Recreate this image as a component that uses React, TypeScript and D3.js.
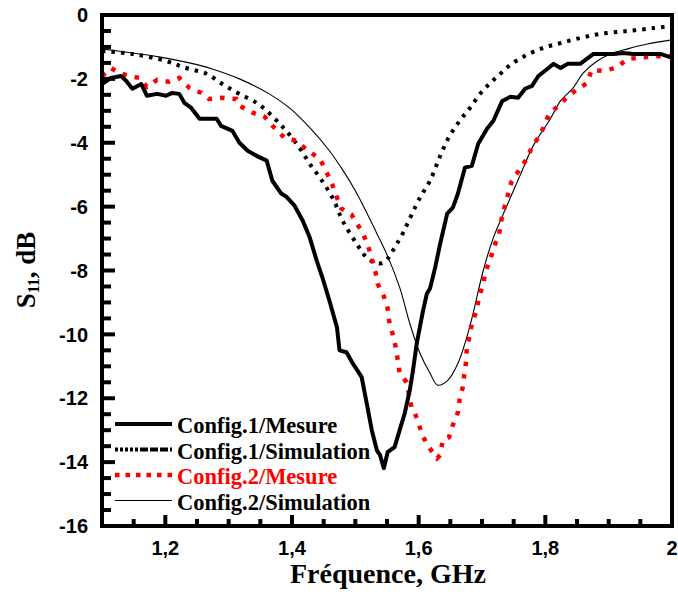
import React from "react";
import * as d3 from "d3";

// Config.1 / Mesure  [GHz, dB]
const mes1F = [1.100,1.114,1.130,1.138,1.148,1.162,1.171,1.187,1.201,1.211,1.222,1.230,1.241,1.254,1.265,1.281,1.288,1.306,1.317,1.330,1.344,1.360,1.369,1.383,1.391,1.404,1.417,1.428,1.439,1.448,1.459,1.471,1.475,1.486,1.496,1.510,1.518,1.526,1.534,1.539,1.545,1.551,1.562,1.570,1.578,1.586,1.591,1.597,1.607,1.613,1.618,1.626,1.634,1.645,1.654,1.662,1.673,1.684,1.694,1.708,1.718,1.732,1.745,1.757,1.768,1.779,1.789,1.803,1.813,1.824,1.835,1.855,1.876,1.892,1.908,1.923,1.939,1.961,1.982,2.000];
const mes1V = [-2.16,-1.97,-1.91,-2.06,-2.31,-2.16,-2.53,-2.47,-2.53,-2.44,-2.47,-2.75,-2.91,-3.25,-3.25,-3.25,-3.47,-3.63,-4.00,-4.25,-4.41,-4.56,-5.19,-5.59,-5.69,-5.97,-6.44,-6.97,-7.69,-8.22,-8.94,-9.78,-10.50,-10.56,-10.91,-11.34,-12.16,-13.00,-13.63,-13.78,-14.19,-13.69,-13.53,-13.00,-12.47,-11.75,-11.13,-10.28,-9.25,-8.72,-8.56,-7.91,-7.16,-6.22,-6.03,-5.59,-4.78,-4.72,-4.03,-3.56,-3.31,-2.69,-2.56,-2.59,-2.31,-2.22,-1.91,-1.69,-1.53,-1.66,-1.53,-1.53,-1.22,-1.22,-1.22,-1.19,-1.22,-1.22,-1.22,-1.34];

// Config.1 / Simulation
const sim1F = [1.100,1.148,1.201,1.233,1.265,1.290,1.317,1.344,1.360,1.376,1.391,1.412,1.428,1.444,1.464,1.480,1.502,1.520,1.539,1.551,1.562,1.573,1.602,1.618,1.634,1.649,1.665,1.681,1.697,1.713,1.729,1.745,1.771,1.797,1.824,1.855,1.887,1.930,1.971,2.000];
const sim1V = [-1.13,-1.22,-1.44,-1.66,-1.84,-2.16,-2.47,-2.75,-3.00,-3.31,-3.63,-4.16,-4.66,-5.09,-5.72,-6.44,-7.16,-7.63,-7.78,-7.63,-7.28,-6.91,-5.72,-5.19,-4.41,-3.78,-3.31,-2.91,-2.47,-2.13,-1.84,-1.56,-1.25,-1.03,-0.88,-0.72,-0.59,-0.50,-0.41,-0.34];

// Config.2 / Mesure
const mes2F = [1.100,1.114,1.127,1.143,1.159,1.171,1.187,1.206,1.222,1.238,1.257,1.269,1.290,1.312,1.317,1.338,1.357,1.369,1.388,1.407,1.425,1.444,1.455,1.463,1.471,1.478,1.494,1.512,1.520,1.526,1.532,1.535,1.545,1.551,1.554,1.559,1.564,1.567,1.570,1.581,1.585,1.589,1.594,1.599,1.605,1.616,1.629,1.634,1.638,1.648,1.654,1.662,1.665,1.670,1.672,1.675,1.676,1.681,1.684,1.692,1.695,1.702,1.705,1.713,1.719,1.727,1.730,1.735,1.741,1.746,1.759,1.771,1.779,1.789,1.797,1.806,1.821,1.836,1.852,1.866,1.873,1.890,1.911,1.930,1.946,1.966,1.984,1.998];
const mes2V = [-1.91,-1.66,-1.81,-1.91,-1.97,-2.25,-2.03,-2.09,-1.97,-2.28,-2.44,-2.63,-2.59,-2.63,-2.84,-3.06,-3.19,-3.47,-3.84,-3.94,-4.25,-4.50,-4.94,-5.28,-5.72,-6.06,-6.25,-6.84,-7.22,-7.63,-8.06,-8.41,-8.81,-9.19,-9.66,-10.00,-10.41,-10.81,-11.22,-11.50,-11.91,-12.31,-12.47,-12.72,-13.13,-13.53,-13.88,-13.78,-13.31,-13.22,-12.84,-12.44,-12.00,-11.63,-11.25,-10.84,-10.44,-10.00,-9.66,-9.22,-8.84,-8.44,-8.06,-7.66,-7.25,-6.88,-6.47,-6.06,-5.63,-5.25,-4.84,-4.50,-4.13,-3.84,-3.53,-3.09,-2.84,-2.53,-2.31,-2.13,-1.72,-1.75,-1.66,-1.38,-1.34,-1.31,-1.28,-1.28];

// Config.2 / Simulation
const sim2F = [1.100,1.148,1.190,1.238,1.274,1.317,1.364,1.396,1.428,1.459,1.480,1.500,1.517,1.533,1.551,1.570,1.586,1.602,1.618,1.630,1.646,1.662,1.676,1.686,1.702,1.718,1.740,1.760,1.781,1.808,1.824,1.844,1.860,1.882,1.903,1.930,1.961,2.000];
const sim2V = [-1.06,-1.19,-1.31,-1.50,-1.69,-2.00,-2.47,-2.91,-3.53,-4.25,-4.85,-5.50,-6.15,-6.80,-7.55,-8.53,-9.66,-10.59,-11.22,-11.59,-11.44,-10.91,-10.09,-9.34,-8.00,-6.97,-5.94,-5.03,-4.09,-3.25,-2.69,-2.28,-1.81,-1.44,-1.22,-1.06,-0.91,-0.78];

const xTicks = [1.2, 1.4, 1.6, 1.8, 2.0];
const xTickLabels = ["1,2", "1,4", "1,6", "1,8", "2"];
const yTicks = [0, -2, -4, -6, -8, -10, -12, -14, -16];
const legendLabels = ["Config.1/Mesure", "Config.1/Simulation", "Config.2/Mesure", "Config.2/Simulation"];

const L = 102, R = 672, T = 15, B = 526;

export default function App() {
  const x = d3.scaleLinear().domain([1.1, 2.0]).range([L, R]);
  const y = d3.scaleLinear().domain([0, -16]).range([T, B]);
  const mk = (F: number[], V: number[], curve: any) =>
    d3.line<number>().x((_, i) => x(F[i])).y((_, i) => y(V[i])).curve(curve)(F.map((_, i) => i)) || "";

  const xMinor = d3.range(1, 18).map((i) => 1.1 + i * 0.05).filter((v) => !xTicks.some((t) => Math.abs(t - v) < 1e-6));
  const yMinor = d3.range(1, 32).map((i) => -i * 0.5).filter((v) => Math.abs(v % 2) > 1e-6);

  const tickFont = "'Liberation Sans', Arial, sans-serif";
  const serif = "'Liberation Serif', 'Times New Roman', serif";

  const legendY = [424, 449.5, 475, 500.5];
  const legendStyles = [
    { stroke: "#000", w: 4, dash: undefined },
    { stroke: "#000", w: 4, dash: "3 2 3 2 3 2 3 2 3 2 8 2 8 2 8 2 8 2" },
    { stroke: "#ff0000", w: 4.5, dash: "4.5 6" },
    { stroke: "#000", w: 1, dash: undefined },
  ];

  return (
    <svg width={678} height={603} style={{ position: "absolute", left: 0, top: 0, background: "#fff" }}>
      <defs>
        <clipPath id="clip">
          <rect x={L} y={T} width={R - L} height={B - T} />
        </clipPath>
      </defs>
      <g clipPath="url(#clip)">
        <path d={mk(sim2F, sim2V, d3.curveCatmullRom.alpha(0.5))} fill="none" stroke="#000" strokeWidth={1.1} />
        <path d={mk(sim1F, sim1V, d3.curveCatmullRom.alpha(0.5))} fill="none" stroke="#000" strokeWidth={4} strokeDasharray="3.5 6" />
        <path d={mk(mes2F, mes2V, d3.curveLinear)} fill="none" stroke="#ff0000" strokeWidth={4.5} strokeDasharray="4.5 8" />
        <path d={mk(mes1F, mes1V, d3.curveLinear)} fill="none" stroke="#000" strokeWidth={4} strokeLinejoin="round" />
      </g>
      {xTicks.map((t) => (
        <line key={"xt" + t} x1={x(t)} x2={x(t)} y1={B} y2={B - 11} stroke="#000" strokeWidth={4} />
      ))}
      {xMinor.map((t) => (
        <line key={"xm" + t} x1={x(t)} x2={x(t)} y1={B} y2={B - 7} stroke="#000" strokeWidth={4} />
      ))}
      {yTicks.map((t) => (
        <line key={"yt" + t} x1={L} x2={L + 13} y1={y(t)} y2={y(t)} stroke="#000" strokeWidth={4} />
      ))}
      {yMinor.map((t) => (
        <line key={"ym" + t} x1={L} x2={L + 9} y1={y(t)} y2={y(t)} stroke="#000" strokeWidth={4} />
      ))}
      <rect x={L} y={T} width={R - L} height={B - T} fill="none" stroke="#000" strokeWidth={4} />
      {xTicks.map((t, i) => (
        <text key={"xl" + t} x={x(t)} y={555} textAnchor="middle" fontFamily={tickFont} fontWeight="bold" fontSize={20}>
          {xTickLabels[i]}
        </text>
      ))}
      {yTicks.map((t) => (
        <text key={"yl" + t} x={88} y={y(t)} dy="0.36em" textAnchor="end" fontFamily={tickFont} fontWeight="bold" fontSize={20}>
          {t === 0 ? "0" : "-" + Math.abs(t)}
        </text>
      ))}
      <text x={388} y={583} textAnchor="middle" fontFamily={serif} fontWeight="bold" fontSize={28}>
        Fréquence, GHz
      </text>
      <text transform="translate(35,270) rotate(-90)" textAnchor="middle" fontFamily={serif} fontWeight="bold" fontSize={27}>
        S<tspan fontSize={16} dy={4}>11</tspan><tspan dy={-4}>, dB</tspan>
      </text>
      {legendLabels.map((lab, i) => (
        <g key={lab}>
          <line x1={115} x2={172} y1={legendY[i]} y2={legendY[i]} stroke={legendStyles[i].stroke} strokeWidth={legendStyles[i].w} strokeDasharray={legendStyles[i].dash} />
          <text x={177} y={legendY[i] + 9} fontFamily={serif} fontWeight="bold" fontSize={22.5} fill={i === 2 ? "#ff0000" : "#000"}>
            {lab}
          </text>
        </g>
      ))}
    </svg>
  );
}
